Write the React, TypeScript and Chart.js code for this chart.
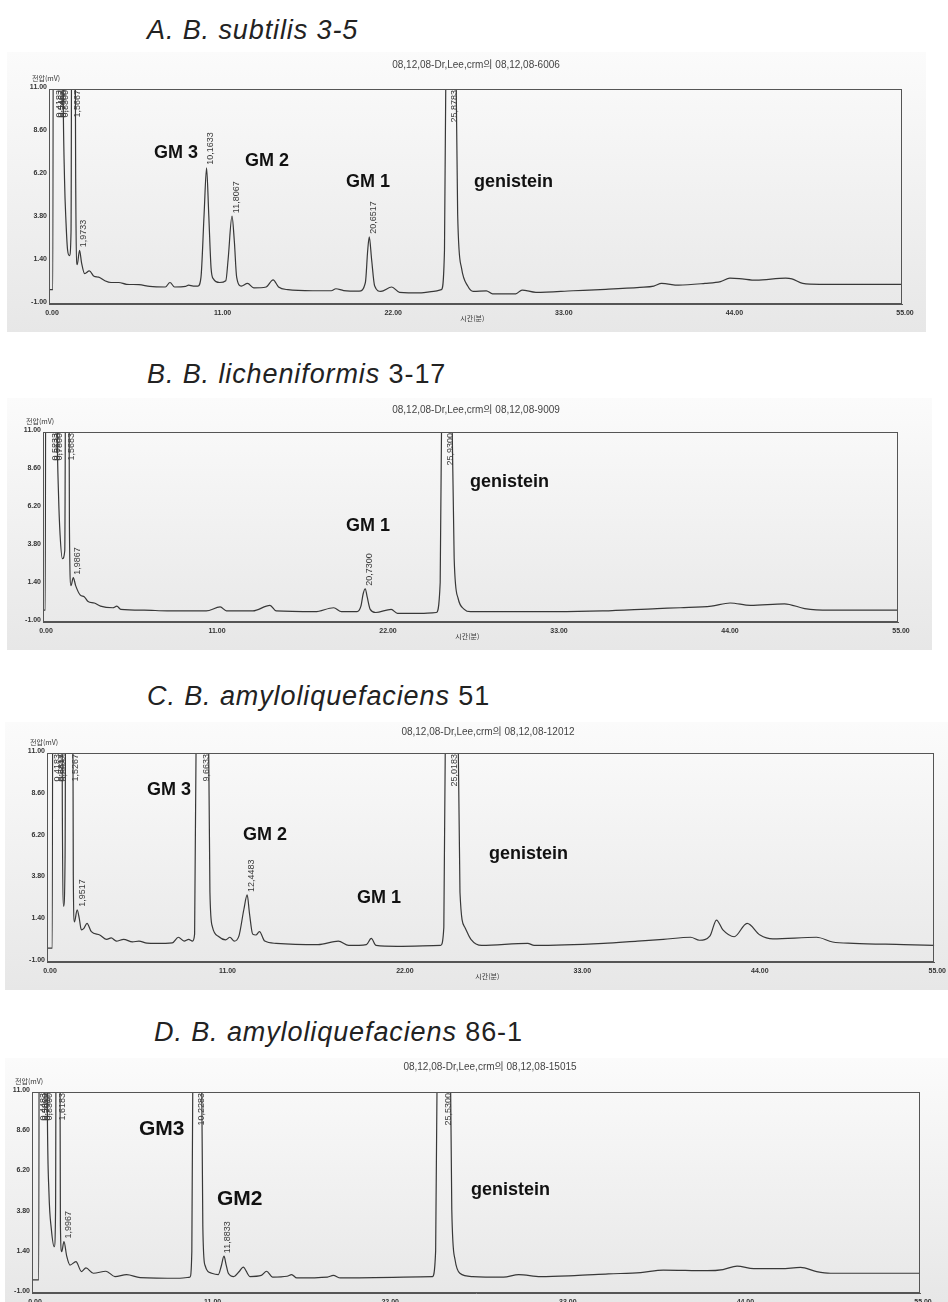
import React, { useEffect, useRef } from "react";
import { Chart, registerables } from "chart.js";

Chart.register(...registerables);

// ---------- shared axis data ----------
const xTickValues = [0, 11, 22, 33, 44, 55];
const yTickValues = [-1, 1.4, 3.8, 6.2, 8.6, 11];
const yAxisTitle = "전압(mV)";
const xAxisTitle = "시간(분)";

// ---------- Panel A : B. subtilis 3-5 ----------
const timesA = [
  0, 0.25, 0.3, 0.6, 0.66, 0.75, 0.9, 1.0, 1.1, 1.2,
  1.32, 1.42, 1.5, 1.62, 1.72, 1.82, 1.97, 2.1, 2.3, 2.6,
  2.9, 3.2, 3.6, 4.0, 4.5, 5.0, 5.8, 6.5, 7.5, 7.8,
  8.1, 8.8, 9.0, 9.3, 9.6, 9.8, 10.0, 10.16, 10.3, 10.45,
  10.6, 11.0, 11.4, 11.55, 11.8, 11.95, 12.1, 12.4, 12.8, 13.2,
  14.0, 14.45, 14.8, 15.4, 17.0, 18.2, 18.5, 19.0, 20.0, 20.4,
  20.55, 20.65, 20.8, 21.0, 21.4, 22.1, 22.6, 24.0, 24.8, 25.3,
  25.5, 25.65, 25.87, 26.15, 26.35, 26.6, 27.0, 27.35, 28.2, 28.6,
  30.1, 30.5, 31.4, 33.8, 35.9, 38.1, 39.0, 39.5, 40.6, 42.3,
  43.3, 43.9, 44.5, 45.6, 47.5, 47.9, 48.6, 49.7, 51.1, 55,
];
const signalA = [
  -0.2, -0.2, 40, 40, 14, 40, 12, 6, 3.5, 2.0,
  1.7, 3, 30, 30, 6, 1.2, 2.0, 1.3, 0.7, 0.85,
  0.55, 0.5, 0.3, 0.2, 0.2, 0.1, 0.08, -0.02, -0.05, 0.2,
  -0.05, -0.02, 0.05, 0.0, 0.0, 0.5, 4.0, 6.6, 4.0, 1.0,
  0.4, 0.2, 0.3, 1.5, 3.9, 2.5, 0.5, 0.0, 0.15, -0.1,
  -0.05, 0.35, -0.05, -0.2, -0.26, -0.26, -0.15, -0.25, -0.28, 0.2,
  2.0, 2.75, 1.5, 0.0, -0.3, -0.05, -0.35, -0.38, -0.3, -0.2,
  2, 20, 40, 20, 4, 1, 0, -0.3, -0.27, -0.43,
  -0.43, -0.22, -0.35, -0.26, -0.18, -0.07, 0.0, 0.15, 0.05, 0.15,
  0.25, 0.44, 0.42, 0.33, 0.44, 0.4, 0.15, 0.1, 0.1, 0.1,
];
const peakTimesA = [0.42, 0.55, 0.7, 0.83, 1.5667, 1.9733, 10.1633, 11.8067, 20.6517, 25.8783];
const peakTextsA = ["0,4183", "0,5467", "0,7000", "0,8300", "1,5667", "1,9733", "10,1633", "11,8067", "20,6517", "25,8783"];
const compoundsA = ["GM 3", "GM 2", "GM 1", "genistein"];
const headerA = "08,12,08-Dr,Lee,crm의 08,12,08-6006";

// ---------- Panel B : B. licheniformis 3-17 ----------
const timesB = [
  0, 0.15, 0.2, 0.6, 0.65, 0.72, 0.9, 1.0, 1.1, 1.25,
  1.4, 1.5, 1.62, 1.7, 1.8, 1.95, 2.1, 2.4, 2.65, 2.9,
  3.3, 3.7, 4.5, 4.75, 5.0, 6.5, 8.0, 10.5, 11.4, 11.8,
  13.5, 14.6, 15.0, 17.5, 18.7, 19.2, 20.2, 20.45, 20.6, 20.73,
  20.85, 21.05, 21.4, 22.4, 22.8, 24.5, 25.3, 25.55, 25.7, 25.93,
  26.2, 26.45, 26.7, 27.1, 27.5, 30, 33, 36, 39.5, 41,
  43, 44.2, 45.5, 47.7, 49, 50.6, 55,
];
const signalB = [
  -0.25, -0.25, 40, 40, 15, 40, 12, 7, 4.5, 3.0,
  3.5, 30, 30, 5, 1.3, 1.8, 1.3, 0.7, 0.6, 0.3,
  0.2, 0.0, -0.1, 0.0, -0.2, -0.25, -0.3, -0.3, -0.05, -0.3,
  -0.3, 0.05, -0.3, -0.35, -0.1, -0.35, -0.35, 0.0, 0.8, 1.1,
  0.6, -0.2, -0.4, -0.2, -0.45, -0.45, -0.4, 1.5, 20, 40,
  20, 3, 0.5, -0.2, -0.35, -0.35, -0.35, -0.3, -0.15, -0.1,
  0.0, 0.2, 0.05, 0.15, -0.15, -0.25, -0.25,
];
const peakTimesB = [0.4, 0.52, 0.65, 0.78, 1.5683, 1.9867, 20.73, 25.93];
const peakTextsB = ["0,3983", "0,5233", "0,6533", "0,7800", "1,5683", "1,9867", "20,7300", "25,9300"];
const compoundsB = ["GM 1", "genistein"];
const headerB = "08,12,08-Dr,Lee,crm의 08,12,08-9009";

// ---------- Panel C : B. amyloliquefaciens 51 ----------
const timesC = [
  0, 0.33, 0.38, 0.75, 0.8, 0.85, 0.95, 1.03, 1.12, 1.2,
  1.55, 1.63, 1.7, 1.87, 2.0, 2.13, 2.3, 2.48, 2.75, 3.27,
  3.7, 3.98, 4.3, 4.75, 5.3, 5.7, 6.2, 6.76, 7.77, 8.14,
  8.5, 8.78, 9.02, 9.15, 9.3, 9.66, 9.95, 10.1, 10.25, 10.66,
  11.07, 11.34, 11.6, 11.9, 12.2, 12.41, 12.55, 12.75, 12.95, 13.17,
  13.5, 14.2, 16.8, 18.06, 18.7, 19.8, 20.1, 20.4, 21.7, 24.4,
  24.6, 24.75, 25.02, 25.4, 25.6, 25.9, 26.28, 26.95, 29.8, 30.2,
  34.5, 36.6, 38.2, 39.9, 40.45, 41.1, 41.5, 41.9, 42.6, 43.4,
  44.2, 45.0, 47.7, 48.7, 50.0, 53.1, 55,
];
const signalC = [
  -0.2, -0.2, 40, 40, 14, 40, 8, 2.2, 5, 30,
  30, 4, 1.3, 2.0, 1.5, 0.84, 0.95, 1.22, 0.74, 0.55,
  0.3, 0.38, 0.2, 0.3, 0.15, 0.2, 0.08, 0.07, 0.1, 0.42,
  0.2, 0.3, 0.2, 0.6, 20, 40, 20, 3, 1.03, 0.45,
  0.27, 0.42, 0.2, 0.5, 2.0, 2.85, 1.8, 0.6, 0.55, 0.74,
  0.2, 0.07, 0.0, 0.2, -0.05, 0.0, 0.36, -0.05, -0.1, -0.05,
  1.0, 20, 40, 20, 3, 1.0, 0.3, -0.05, 0.07, -0.05,
  0.07, 0.2, 0.3, 0.42, 0.25, 0.5, 1.41, 0.84, 0.45, 1.22,
  0.55, 0.33, 0.42, 0.15, 0.07, 0.0, -0.05,
];
const peakTimesC = [0.42, 0.55, 0.68, 0.8, 1.5267, 1.9517, 9.6633, 12.4483, 25.0183];
const peakTextsC = ["0,4183", "0,5500", "0,6817", "0,8033", "1,5267", "1,9517", "9,6633", "12,4483", "25,0183"];
const compoundsC = ["GM 3", "GM 2", "GM 1", "genistein"];
const headerC = "08,12,08-Dr,Lee,crm의 08,12,08-12012";

// ---------- Panel D : B. amyloliquefaciens 86-1 ----------
const timesD = [
  0, 0.42, 0.47, 0.7, 0.75, 0.8, 0.95, 1.05, 1.2, 1.38,
  1.46, 1.52, 1.68, 1.76, 1.84, 1.98, 2.15, 2.35, 2.72, 3.07,
  3.34, 3.8, 4.58, 5.14, 5.86, 6.7, 9.16, 9.78, 9.9, 10.0,
  10.23, 10.45, 10.58, 10.71, 11.13, 11.54, 11.72, 11.89, 12.02, 12.16,
  12.5, 12.85, 13.08, 13.5, 14.2, 14.53, 14.9, 15.8, 16.08, 16.4,
  18.3, 18.66, 19.1, 24.8, 25.0, 25.15, 25.53, 25.85, 26.0, 26.2,
  26.5, 27.3, 29.2, 30.15, 31.5, 33.6, 35.7, 37.7, 39.1, 41.8,
  42.8, 43.67, 44.7, 46.4, 47.6, 48.6, 49.45, 51.5, 55,
];
const signalD = [
  -0.22, -0.22, 40, 40, 15, 40, 10, 5, 2.8, 1.76,
  4, 30, 30, 3, 1.47, 2.07, 1.2, 0.67, 0.87, 0.28,
  0.5, 0.18, 0.3, -0.02, 0.1, -0.08, -0.12, -0.05, 1.5, 20,
  40, 20, 3, 0.67, 0.18, 0.1, 0.6, 1.2, 0.7, 0.18,
  -0.02, 0.3, 0.55, -0.02, 0.05, 0.3, -0.05, 0.0, 0.1, -0.1,
  -0.05, 0.05, -0.1, -0.02, 1.5, 20, 40, 20, 4, 1.0,
  0.18, -0.02, -0.05, 0.1, -0.02, 0.04, 0.14, 0.22, 0.37, 0.33,
  0.4, 0.61, 0.45, 0.45, 0.53, 0.28, 0.18, 0.18, 0.18,
];
const peakTimesD = [0.45, 0.58, 0.7, 0.83, 1.6183, 1.9967, 10.2283, 11.8833, 25.53];
const peakTextsD = ["0,4483", "0,5800", "0,7017", "0,8300", "1,6183", "1,9967", "10,2283", "11,8833", "25,5300"];
const compoundsD = ["GM3", "GM2", "genistein"];
const headerD = "08,12,08-Dr,Lee,crm의 08,12,08-15015";

// ---------- layout (page coordinates) ----------
type Rect = { left: number; top: number; right: number; bottom: number };
type PanelCfg = {
  times: number[];
  signal: number[];
  peakTimes: number[];
  peakTexts: string[];
  compounds: string[];
  header: string;
  box: Rect;
  plot: Rect;
  headerPos: [number, number];
  compoundPos: [number, number, number][];
  title: { italic: string; normal: string; left: number; baseline: number };
};

const panels: PanelCfg[] = [
  {
    times: timesA, signal: signalA, peakTimes: peakTimesA, peakTexts: peakTextsA,
    compounds: compoundsA, header: headerA,
    box: { left: 7, top: 52, right: 926, bottom: 332 },
    plot: { left: 49, top: 89, right: 902, bottom: 304 },
    headerPos: [476, 68],
    compoundPos: [[154, 158, 18], [245, 166, 18], [346, 187, 18], [474, 187, 18]],
    title: { italic: "A. B. subtilis 3-5", normal: "", left: 147, baseline: 40 },
  },
  {
    times: timesB, signal: signalB, peakTimes: peakTimesB, peakTexts: peakTextsB,
    compounds: compoundsB, header: headerB,
    box: { left: 7, top: 398, right: 932, bottom: 650 },
    plot: { left: 43, top: 432, right: 898, bottom: 622 },
    headerPos: [476, 413],
    compoundPos: [[346, 531, 18], [470, 487, 18]],
    title: { italic: "B. B. licheniformis", normal: " 3-17", left: 147, baseline: 384 },
  },
  {
    times: timesC, signal: signalC, peakTimes: peakTimesC, peakTexts: peakTextsC,
    compounds: compoundsC, header: headerC,
    box: { left: 5, top: 722, right: 948, bottom: 990 },
    plot: { left: 47, top: 753, right: 939, bottom: 962 },
    headerPos: [488, 735],
    compoundPos: [[147, 795, 18], [243, 840, 18], [357, 903, 18], [489, 859, 18]],
    title: { italic: "C. B. amyloliquefaciens", normal: " 51", left: 147, baseline: 706 },
  },
  {
    times: timesD, signal: signalD, peakTimes: peakTimesD, peakTexts: peakTextsD,
    compounds: compoundsD, header: headerD,
    box: { left: 5, top: 1058, right: 948, bottom: 1302 },
    plot: { left: 32, top: 1092, right: 920, bottom: 1293 },
    headerPos: [490, 1070],
    compoundPos: [[139, 1135, 21], [217, 1205, 21], [471, 1195, 18]],
    title: { italic: "D. B. amyloliquefaciens", normal: " 86-1", left: 154, baseline: 1042 },
  },
];

const FONT = '"Liberation Sans", Arial, "Noto Sans CJK KR", sans-serif';

function makeOverlay(p: PanelCfg) {
  return {
    id: "overlay",
    afterDraw(chart: any) {
      const ctx: CanvasRenderingContext2D = chart.ctx;
      const ca = chart.chartArea;
      const xs = chart.scales.x;
      const ys = chart.scales.y;
      const ox = p.box.left;
      const oy = p.box.top;
      ctx.save();
      // plot frame
      ctx.strokeStyle = "#555";
      ctx.lineWidth = 1;
      ctx.strokeRect(Math.round(ca.left) + 0.5, Math.round(ca.top) + 0.5,
        Math.round(ca.right - ca.left) - 1, Math.round(ca.bottom - ca.top) - 1);

      // header
      ctx.fillStyle = "#444";
      ctx.font = `10px ${FONT}`;
      ctx.textAlign = "center";
      ctx.textBaseline = "alphabetic";
      ctx.fillText(p.header, p.headerPos[0] - ox, p.headerPos[1] - oy);

      // axis titles
      ctx.font = `7px "Noto Sans CJK KR", ${FONT}`;
      ctx.fillStyle = "#333";
      ctx.textAlign = "left";
      ctx.textBaseline = "middle";
      ctx.fillText(yAxisTitle, ca.left - 17, ca.top - 11);
      ctx.textAlign = "center";
      ctx.fillText(xAxisTitle, xs.getPixelForValue(27.3), ca.bottom + 14);

      // peak retention-time labels (rotated)
      ctx.font = `9px ${FONT}`;
      ctx.fillStyle = "#3a3a3a";
      p.peakTimes.forEach((t, i) => {
        const text = p.peakTexts[i];
        let apex = -Infinity;
        p.times.forEach((tt, j) => {
          if (Math.abs(tt - t) <= 0.12) apex = Math.max(apex, p.signal[j]);
        });
        const w = ctx.measureText(text).width;
        const x = xs.getPixelForValue(t) + 4;
        let y0 = ys.getPixelForValue(apex) - 3;
        if (y0 - w < ca.top + 1) y0 = ca.top + 1 + w;
        ctx.save();
        ctx.translate(x, y0);
        ctx.rotate(-Math.PI / 2);
        ctx.textAlign = "left";
        ctx.textBaseline = "middle";
        ctx.fillText(text, 0, 0);
        ctx.restore();
      });

      // compound names
      ctx.fillStyle = "#111";
      ctx.textAlign = "left";
      ctx.textBaseline = "alphabetic";
      p.compounds.forEach((name, i) => {
        const [x, y, s] = p.compoundPos[i];
        ctx.font = `bold ${s}px ${FONT}`;
        ctx.fillText(name, x - ox, y - oy);
      });
      ctx.restore();
    },
  };
}

function ChromPanel({ p }: { p: PanelCfg }) {
  const ref = useRef<HTMLCanvasElement | null>(null);
  const w = p.box.right - p.box.left;
  const h = p.box.bottom - p.box.top;
  useEffect(() => {
    if (!ref.current) return;
    const chart = new Chart(ref.current, {
      type: "line",
      data: {
        datasets: [
          {
            data: p.times.map((t, i) => ({ x: t, y: p.signal[i] })),
            borderColor: "#383838",
            borderWidth: 1.2,
            pointRadius: 0,
            fill: false,
            cubicInterpolationMode: "monotone",
            clip: 0,
          } as any,
        ],
      },
      options: {
        animation: false,
        responsive: false,
        maintainAspectRatio: false,
        events: [],
        layout: {
          autoPadding: false,
          padding: {
            left: 0,
            top: p.plot.top - p.box.top,
            right: p.box.right - p.plot.right,
            bottom: 0,
          },
        },
        plugins: {
          legend: { display: false },
          tooltip: { enabled: false },
          title: { display: false },
        },
        scales: {
          x: {
            type: "linear",
            min: 0,
            max: 55,
            afterBuildTicks: (s: any) => {
              s.ticks = xTickValues.map((v) => ({ value: v }));
            },
            afterFit: (s: any) => {
              s.height = p.box.bottom - p.plot.bottom;
            },
            grid: { display: false, drawTicks: false },
            border: { display: true, color: "#555", width: 1 },
            ticks: {
              callback: (v: any) => Number(v).toFixed(2),
              font: { size: 7, weight: "bold", family: FONT },
              color: "#333",
              maxRotation: 0,
              autoSkip: false,
              padding: 5,
              labelOffset: 3,
            },
          },
          y: {
            type: "linear",
            min: -1,
            max: 11,
            afterBuildTicks: (s: any) => {
              s.ticks = yTickValues.map((v) => ({ value: v }));
            },
            afterFit: (s: any) => {
              s.width = p.plot.left - p.box.left;
            },
            grid: { display: false, drawTicks: false },
            border: { display: true, color: "#555", width: 1 },
            ticks: {
              callback: (v: any) => Number(v).toFixed(2),
              font: { size: 7, weight: "bold", family: FONT },
              color: "#333",
              autoSkip: false,
              padding: 2,
              labelOffset: -2,
            },
          },
        },
      } as any,
      plugins: [makeOverlay(p)],
    });
    return () => chart.destroy();
  }, []);
  return (
    <div
      style={{
        position: "absolute",
        left: p.box.left,
        top: p.box.top,
        width: w,
        height: h,
        background: "linear-gradient(#fbfbfb, #e7e7e7)",
      }}
    >
      <canvas ref={ref} width={w} height={h} style={{ display: "block", width: w, height: h }} />
    </div>
  );
}

export default function App() {
  const fs = 27;
  return (
    <div style={{ position: "absolute", left: 0, top: 0, width: 948, height: 1302, background: "#fff", overflow: "hidden" }}>
      {panels.map((p, i) => (
        <div
          key={"t" + i}
          style={{
            position: "absolute",
            left: p.title.left,
            top: p.title.baseline - Math.round(fs * 0.8465),
            fontFamily: FONT,
            fontSize: fs,
            lineHeight: `${fs}px`,
            letterSpacing: 0.9,
            color: "#222",
            whiteSpace: "nowrap",
          }}
        >
          <span style={{ fontStyle: "italic" }}>{p.title.italic}</span>
          <span>{p.title.normal}</span>
        </div>
      ))}
      {panels.map((p, i) => (
        <ChromPanel key={"p" + i} p={p} />
      ))}
    </div>
  );
}
